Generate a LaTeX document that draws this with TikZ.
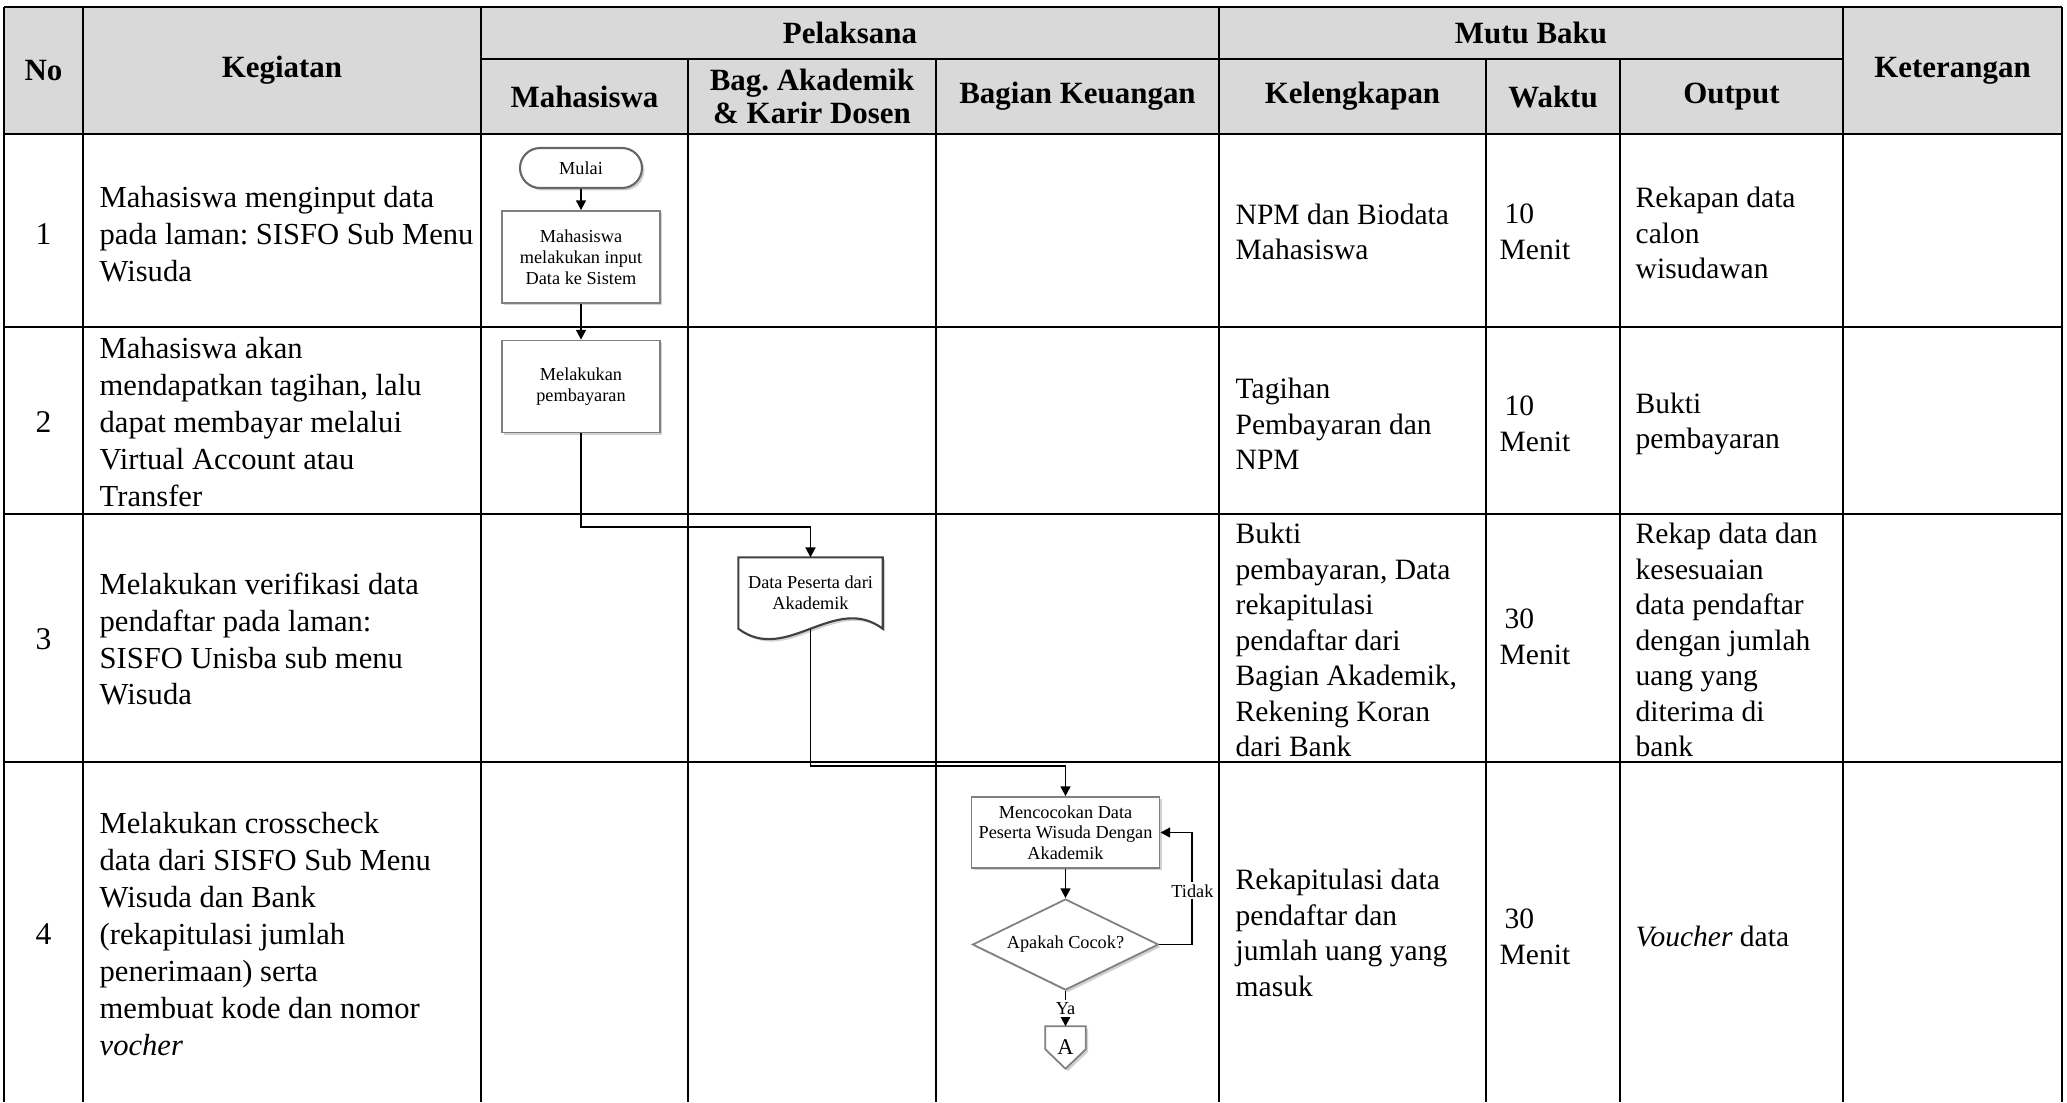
\documentclass[tikz,border=0pt]{standalone}
\usepackage{fontspec}
\setmainfont{Liberation Serif}
\usetikzlibrary{shapes.geometric,arrows.meta,calc,shadows,backgrounds}
\frenchspacing

\begin{document}
        \begin{tikzpicture}[x=1cm,y=-1cm,
            >={Triangle[length=2.8pt,width=2.8pt]},
            garis/.style={line width=0.8pt,black},
            judul/.style={font=\fontsize{8.8pt}{9.4pt}\selectfont\bfseries,align=center},
            nomor/.style={font=\fontsize{9pt}{10.5pt}\selectfont},
            isi/.style={anchor=west,align=left,inner sep=0pt,font=\fontsize{8.7pt}{10.5pt}\selectfont},
            mutu/.style={anchor=west,align=left,inner sep=0pt,font=\fontsize{8.4pt}{10.1pt}\selectfont},
            bayang/.style={drop shadow={shadow xshift=0.7pt,shadow yshift=-0.7pt,opacity=0.18,fill=black}},
            kecil/.style={font=\fontsize{5.2pt}{5.9pt}\selectfont,align=center,inner sep=1pt},
            proses/.style={kecil,draw=black!50,line width=0.5pt,fill=white,bayang,minimum width=1.58cm,minimum height=0.92cm},
            ujung/.style={kecil,draw=black!60,line width=0.6pt,fill=white,bayang,rounded corners=0.2cm,minimum width=1.22cm,minimum height=0.40cm},
            putusan/.style={kecil,diamond,aspect=2.04,draw=black!50,line width=0.5pt,fill=white,bayang,inner sep=0pt,minimum width=1.86cm,minimum height=0.91cm},
            alur/.style={->,line width=0.55pt,black},
            ket/.style={kecil,fill=white,inner sep=0.6pt}]
            \useasboundingbox (0,0) rectangle (20.67,11.02);

            \fill[black!15] (0.04,0.07) rectangle (20.62,1.34);
            \draw[garis] (0.04,0.07) -- (20.62,0.07);
            \draw[garis] (4.81,0.59) -- (18.43,0.59);
            \draw[garis] (0.04,1.34) -- (20.62,1.34);
            \draw[garis] (0.04,3.27) -- (20.62,3.27);
            \draw[garis] (0.04,5.14) -- (20.62,5.14);
            \draw[garis] (0.04,7.62) -- (20.62,7.62);
            \draw[garis] (0.04,0.07) -- (0.04,11.02);
            \draw[garis] (0.83,0.07) -- (0.83,11.02);
            \draw[garis] (4.81,0.07) -- (4.81,11.02);
            \draw[garis] (6.88,0.59) -- (6.88,11.02);
            \draw[garis] (9.36,0.59) -- (9.36,11.02);
            \draw[garis] (12.19,0.07) -- (12.19,11.02);
            \draw[garis] (14.86,0.59) -- (14.86,11.02);
            \draw[garis] (16.20,0.59) -- (16.20,11.02);
            \draw[garis] (18.43,0.07) -- (18.43,11.02);
            \draw[garis] (20.62,0.07) -- (20.62,11.02);

            \node[judul] (hNo) at (0.435,0.705) {No};
            \node[judul] (hKegiatan) at (2.82,0.705) {Kegiatan};
            \node[judul] (hPelaksana) at (8.50,0.33) {Pelaksana};
            \node[judul] (hMahasiswa) at (5.845,0.965) {Mahasiswa};
            \node[judul] (hAkademik) at (8.12,0.965) {Bag. Akademik\\\& Karir Dosen};
            \node[judul] (hKeuangan) at (10.775,0.965) {Bagian Keuangan};
            \node[judul] (hMutu) at (15.31,0.33) {Mutu Baku};
            \node[judul] (hKelengkapan) at (13.525,0.965) {Kelengkapan};
            \node[judul] (hWaktu) at (15.53,0.965) {Waktu};
            \node[judul] (hOutput) at (17.315,0.965) {Output};
            \node[judul] (hKeterangan) at (19.525,0.705) {Keterangan};

            \node[nomor] (no1) at (0.435,2.34) {1};
            \node[nomor] (no2) at (0.435,4.22) {2};
            \node[nomor] (no3) at (0.435,6.39) {3};
            \node[nomor] (no4) at (0.435,9.34) {4};

            \node[isi] (keg1) at (0.99,2.34) {Mahasiswa menginput data\\pada laman: SISFO Sub Menu\\Wisuda};
            \node[isi] (keg2) at (0.99,4.22) {Mahasiswa akan\\mendapatkan tagihan, lalu\\dapat membayar melalui\\Virtual Account atau\\Transfer};
            \node[isi] (keg3) at (0.99,6.39) {Melakukan verifikasi data\\pendaftar pada laman:\\SISFO Unisba sub menu\\Wisuda};
            \node[isi] (keg4) at (0.99,9.34) {Melakukan crosscheck\\data dari SISFO Sub Menu\\Wisuda dan Bank\\(rekapitulasi jumlah\\penerimaan) serta\\membuat kode dan nomor\\\textit{vocher}};

            \node[mutu] (leng1) at (12.35,2.32) {NPM dan Biodata\\Mahasiswa};
            \node[mutu] (leng2) at (12.35,4.24) {Tagihan\\Pembayaran dan\\NPM};
            \node[mutu] (leng3) at (12.35,6.40) {Bukti\\pembayaran, Data\\rekapitulasi\\pendaftar dari\\Bagian Akademik,\\Rekening Koran\\dari Bank};
            \node[mutu] (leng4) at (12.35,9.33) {Rekapitulasi data\\pendaftar dan\\jumlah uang yang\\masuk};

            \node[mutu] (wkt1) at (14.99,2.32) {\hspace*{0.05cm}10\\Menit};
            \node[mutu] (wkt2) at (14.99,4.24) {\hspace*{0.05cm}10\\Menit};
            \node[mutu] (wkt3) at (14.99,6.37) {\hspace*{0.05cm}30\\Menit};
            \node[mutu] (wkt4) at (14.99,9.37) {\hspace*{0.05cm}30\\Menit};

            \node[mutu] (out1) at (16.35,2.33) {Rekapan data\\calon\\wisudawan};
            \node[mutu] (out2) at (16.35,4.24) {Bukti\\pembayaran};
            \node[mutu] (out3) at (16.35,6.40) {Rekap data dan\\kesesuaian\\data pendaftar\\dengan jumlah\\uang yang\\diterima di\\bank};
            \node[mutu] (out4) at (16.35,9.36) {\textit{Voucher} data};

            \node[ujung] (mulai) at (5.81,1.68) {Mulai};
            \node[proses] (inputData) at (5.81,2.57) {Mahasiswa\\melakukan input\\Data ke Sistem};
            \node[proses] (bayar) at (5.81,3.865) {Melakukan\\pembayaran};
            \node[kecil,minimum width=1.43cm,minimum height=0.70cm,inner sep=0pt] (dataPeserta) at (8.105,5.93) {Data Peserta dari\\Akademik};
            \node[proses,minimum width=1.88cm,minimum height=0.71cm] (cocok) at (10.655,8.325) {Mencocokan Data\\Peserta Wisuda Dengan\\Akademik};
            \node[putusan] (cek) at (10.655,9.445) {Apakah Cocok?};
            \node[kecil,font=\fontsize{6.4pt}{7pt}\selectfont,minimum width=0.39cm,minimum height=0.41cm,inner sep=0pt] (konA) at (10.655,10.475) {A};

            \begin{scope}[on background layer]
            \draw[draw=black!75,line width=0.6pt,fill=white,bayang] (dataPeserta.north west) -- (dataPeserta.north east) -- (dataPeserta.south east) .. controls +(-0.48,-0.36) and +(0.48,0.36) .. (dataPeserta.south west) -- cycle;
            \draw[draw=black!50,line width=0.5pt,fill=white,bayang] (konA.north west) -- (konA.north east) -- ($(konA.north east)+(0,0.23)$) -- (konA.south) -- ($(konA.north west)+(0,0.23)$) -- cycle;
            \end{scope}

            \draw[alur] (mulai) -- (inputData);
            \draw[alur] (inputData) -- (bayar);
            \draw[alur] (bayar.south) -- ++(0,0.94) -| (dataPeserta.north);
            \draw[alur] (dataPeserta.south) -- ++(0,1.37) -| (cocok.north);
            \draw[alur] (cocok) -- (cek);
            \draw[alur] (cek.east) -- ++(0.33,0) |- node[ket,pos=0.24] {Tidak} (cocok.east);
            \draw[alur] (cek.south) -- node[ket] {Ya} (konA.north);
        \end{tikzpicture}
\end{document}
